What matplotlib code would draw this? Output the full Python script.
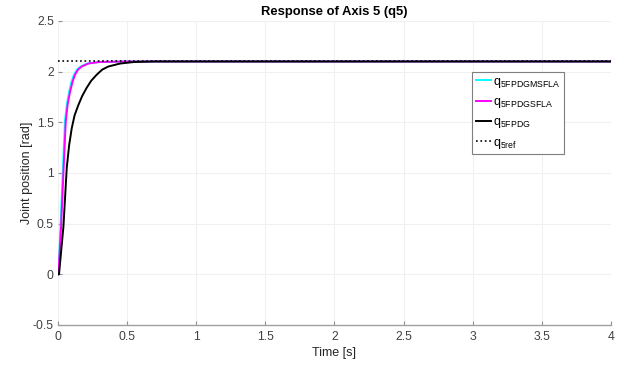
import matplotlib
matplotlib.use("Agg")
import matplotlib.pyplot as plt

plt.rcParams['font.family'] = ['Liberation Sans', 'DejaVu Sans']
plt.rcParams['mathtext.fontset'] = 'custom'
plt.rcParams['mathtext.rm'] = 'Liberation Sans'

## values
t_cyan = [0, 0.003, 0.018, 0.034, 0.050, 0.064, 0.080, 0.097, 0.115, 0.137, 0.163, 0.21, 0.30, 0.50, 4.0]
q_cyan = [0, 0.01, 0.47, 1.00, 1.51, 1.68, 1.80, 1.90, 1.97, 2.02, 2.05, 2.08, 2.095, 2.10, 2.10]

t_mag = [0, 0.003, 0.022, 0.039, 0.056, 0.070, 0.087, 0.105, 0.123, 0.145, 0.171, 0.22, 0.30, 0.50, 4.0]
q_mag = [0, 0.01, 0.47, 1.00, 1.51, 1.68, 1.80, 1.90, 1.97, 2.02, 2.05, 2.08, 2.095, 2.10, 2.10]

t_blk = [0, 0.007, 0.039, 0.063, 0.080, 0.099, 0.120, 0.147, 0.175, 0.207, 0.240, 0.280, 0.320, 0.363, 0.45, 0.55, 0.70, 1.0, 4.0]
q_blk = [0, 0.0, 0.47, 1.05, 1.27, 1.44, 1.57, 1.67, 1.76, 1.84, 1.91, 1.97, 2.02, 2.05, 2.08, 2.095, 2.10, 2.10, 2.10]

t_ref = [0, 4.0]
q_ref = [2.1, 2.1]

labels = [r'$\mathregular{q_{5FPDGMSFLA}}$', r'$\mathregular{q_{5FPDGSFLA}}$',
          r'$\mathregular{q_{5FPDG}}$', r'$\mathregular{q_{5ref}}$']

fig = plt.figure(figsize=(6.24, 3.65), dpi=100)
ax = fig.add_axes([0.093, 0.1096, 0.886, 0.833])

ax.plot(t_cyan, q_cyan, color='cyan', lw=1.4, label=labels[0])
ax.plot(t_mag, q_mag, color='magenta', lw=1.4, label=labels[1])
ax.plot(t_blk, q_blk, color='black', lw=1.4, label=labels[2])
ax.plot(t_ref, q_ref, color='black', lw=1.2, ls=':', label=labels[3])

ax.set_xlim(0, 4)
ax.set_ylim(-0.5, 2.5)
ax.set_xticks([0, 0.5, 1, 1.5, 2, 2.5, 3, 3.5, 4])
ax.set_xticklabels(['0', '0.5', '1', '1.5', '2', '2.5', '3', '3.5', '4'])
ax.set_yticks([-0.5, 0, 0.5, 1, 1.5, 2, 2.5])
ax.set_yticklabels(['-0.5', '0', '0.5', '1', '1.5', '2', '2.5'])

ax.grid(True, color='#f0f0f0', lw=0.8)
ax.set_axisbelow(True)
for s in ['top', 'right', 'left']:
    ax.spines[s].set_visible(False)
ax.spines['bottom'].set_color('#a0a0a0')
ax.spines['bottom'].set_linewidth(1.0)
ax.tick_params(direction='in', length=3, width=0.8, color='#909090',
               labelcolor='#404040', labelsize=8.7)
ax.tick_params(axis='x', pad=4)
ax.tick_params(axis='y', pad=3)

ax.set_xlabel('Time [s]', fontsize=9, color='#262626', labelpad=3)
ax.set_ylabel('Joint position [rad]', fontsize=9, color='#262626', labelpad=0)
ax.set_title('Response of Axis 5 (q5)', fontsize=9.4, fontweight='bold', pad=4)

leg = ax.legend(loc='upper left', bbox_to_anchor=(0.749, 0.832), fontsize=9,
                handlelength=1.2, handletextpad=0.15, borderpad=0.3,
                labelspacing=0.5, fancybox=False, framealpha=1, borderaxespad=0)
leg.get_frame().set_edgecolor('#7f7f7f')
leg.get_frame().set_linewidth(0.8)

fig.savefig('out.png', dpi=100)
